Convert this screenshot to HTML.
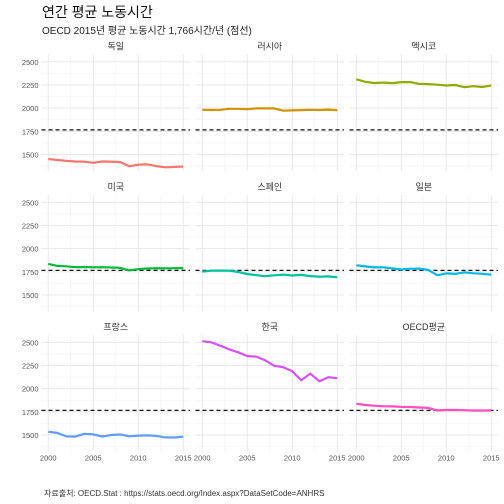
<!DOCTYPE html>
<html><head><meta charset="utf-8">
<style>
body{margin:0;background:#fff;}
svg{display:block;font-family:"Liberation Sans","Noto Sans CJK KR",sans-serif;}
</style></head>
<body>
<svg id="chart" width="504" height="504" viewBox="0 0 504 504">
<text x="42" y="17" font-size="14" fill="#111">연간 평균 노동시간</text>
<text x="42" y="34" font-size="10" fill="#222">OECD 2015년 평균 노동시간 1,766시간/년 (점선)</text>
<text x="44" y="496" font-size="8" fill="#333">자료출처: OECD.Stat : https://stats.oecd.org/Index.aspx?DataSetCode=ANHRS</text>
<g id="panels"></g>
</svg>
<script>
const years = [2000,2001,2002,2003,2004,2005,2006,2007,2008,2009,2010,2011,2012,2013,2014,2015];
const countries = ["독일","러시아","멕시코","미국","스페인","일본","프랑스","한국","OECD평균"];
const colors = ["#F8766D","#D39200","#93AA00","#00BA38","#00C19F","#00B9E3","#619CFF","#D652F5","#FF4FC0"];
const germany = [1452,1441,1431,1425,1422,1411,1425,1424,1418,1373,1390,1393,1375,1362,1366,1371];
const russia = [1982,1980,1982,1993,1993,1990,1998,1999,1997,1973,1976,1979,1982,1980,1985,1978];
const mexico = [2311,2285,2271,2276,2270,2281,2281,2262,2260,2253,2245,2250,2226,2237,2228,2246];
const usa = [1836,1814,1810,1800,1802,1799,1800,1797,1792,1767,1778,1786,1789,1788,1789,1790];
const spain = [1753,1762,1764,1762,1748,1727,1714,1704,1713,1720,1710,1717,1704,1698,1701,1691];
const japan = [1821,1809,1798,1799,1787,1775,1784,1785,1771,1714,1733,1728,1745,1734,1729,1719];
const france = [1535,1523,1485,1483,1513,1507,1484,1500,1506,1486,1494,1496,1490,1474,1473,1482];
const korea = [2512,2499,2464,2424,2392,2351,2346,2306,2246,2232,2187,2090,2163,2079,2124,2113];
const oecd = [1838,1824,1816,1810,1809,1803,1802,1797,1792,1766,1770,1771,1768,1764,1765,1766];
const series = [germany,russia,mexico,usa,spain,japan,france,korea,oecd];
const refLine = 1766;
const yTicks = [1500,1750,2000,2250,2500];
const yMinor = [1375,1625,1875,2125,2375];
const xTicks = [2000,2005,2010,2015];
const xMinor = [2002.5,2007.5,2012.5];

const NS="http://www.w3.org/2000/svg";
const root=document.getElementById('panels');
const colX=[41.5,195.5,349.5], rowTop=[54.5,195,335];
const PW=148.5, PH=116.7, XMIN=1999.25, XMAX=2015.75, YMIN=1320, YMAX=2579;
function mk(t,a,p){const e=document.createElementNS(NS,t);for(const k in a)e.setAttribute(k,a[k]);(p||root).appendChild(e);return e;}

for(let i=0;i<9;i++){
  const r=Math.floor(i/3), c=i%3;
  const x0=colX[c], y0=rowTop[r];
  const sx=v=>x0+(v-XMIN)/(XMAX-XMIN)*PW;
  const sy=v=>y0+PH-(v-YMIN)/(YMAX-YMIN)*PH;
  const g=mk('g',{});
  
  
  const st=mk('text',{x:x0+PW/2,y:y0-5,'font-size':9,'text-anchor':'middle',fill:'#333'},g);
  
  
  st.textContent=countries[i];
  yMinor.forEach(v=>{const l=mk('line',{x1:x0,x2:x0+PW,y1:sy(v),y2:sy(v),stroke:'#f3f3f3','stroke-width':0.6},g);});
  xMinor.forEach(v=>{const l=mk('line',{x1:sx(v),x2:sx(v),y1:y0,y2:y0+PH,stroke:'#f3f3f3','stroke-width':0.6},g);});
  yTicks.forEach(v=>{const l=mk('line',{x1:x0,x2:x0+PW,y1:sy(v),y2:sy(v),stroke:'#e8e8e8','stroke-width':1},g);});
  xTicks.forEach(v=>{const l=mk('line',{x1:sx(v),x2:sx(v),y1:y0,y2:y0+PH,stroke:'#e8e8e8','stroke-width':1},g);});
  if(c===0){yTicks.forEach(v=>{const t=mk('text',{x:x0-3,y:sy(v)+3,'font-size':7.5,'text-anchor':'end',fill:'#555'},g);t.textContent=v;});}
  if(r===2){xTicks.forEach(v=>{const t=mk('text',{x:sx(v),y:y0+PH+9,'font-size':7.5,'text-anchor':'middle',fill:'#555'},g);t.textContent=v;});}
  const ref=mk('line',{x1:x0,x2:x0+PW,y1:sy(refLine),y2:sy(refLine),stroke:'#111','stroke-width':1.2,'stroke-dasharray':'4,3'},g);
  
  
  const pts=series[i].map((v,k)=>sx(years[k]).toFixed(1)+','+sy(v).toFixed(1)).join(' ');
  const pl=mk('polyline',{points:pts,fill:'none',stroke:colors[i],'stroke-width':2.2,'stroke-linejoin':'round'},g);
  
  
}
</script>
</body></html>
